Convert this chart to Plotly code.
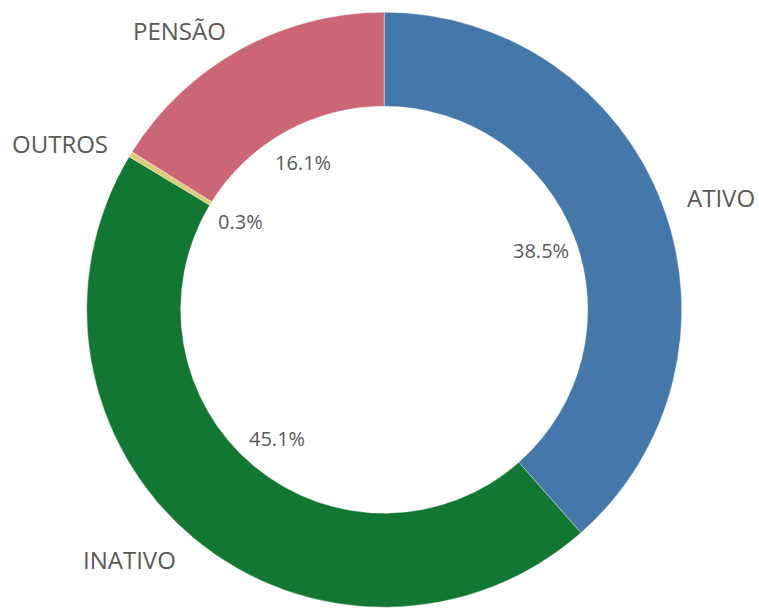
import numpy as np
import plotly.graph_objects as go

categories = ["ATIVO", "INATIVO", "OUTROS", "PENSÃO"]
values = [38.5, 45.1, 0.3, 16.1]
colors = ["#4477aa", "#117733", "#ddcc77", "#cc6677"]

W, H = 759, 608
CX, CY, R = 384.2, 309.7, 297.5
HOLE = 0.684

fig = go.Figure(go.Pie(
    labels=categories,
    values=values,
    sort=False,
    direction="clockwise",
    rotation=0,
    hole=HOLE,
    textinfo="none",
    hoverinfo="label+percent",
    marker=dict(colors=colors, line=dict(color="rgba(255,255,255,0.6)", width=0.6)),
    domain=dict(x=[(CX - R) / W, (CX + R) / W], y=[1 - (CY + R) / H, 1 - (CY - R) / H]),
    showlegend=False,
))

vals = np.array(values, dtype=float)
fracs = vals / vals.sum()
cum = np.cumsum(fracs) - fracs / 2
annotations = []
for cat, f, m in zip(categories, fracs, cum):
    ang = np.deg2rad(m * 360.0)
    s, c = np.sin(ang), np.cos(ang)
    # outside category label
    ro = 322
    px, py = CX + ro * s, CY - ro * c + 2
    annotations.append(dict(
        x=px / W, y=1 - py / H, xref="paper", yref="paper",
        text=cat, showarrow=False,
        xanchor="left" if s > 0 else "right", yanchor="middle",
        font=dict(family="Open Sans", size=24, color="#595959"),
    ))
    # inside percentage label
    ri = 168
    px, py = CX + ri * s, CY - ri * c
    annotations.append(dict(
        x=px / W, y=1 - py / H, xref="paper", yref="paper",
        text=f"{f * 100:.1f}%", showarrow=False,
        xanchor="center", yanchor="middle",
        font=dict(family="Open Sans", size=20, color="#595959"),
    ))

fig.update_layout(
    width=W, height=H,
    margin=dict(l=0, r=0, t=0, b=0),
    paper_bgcolor="white", plot_bgcolor="white",
    annotations=annotations,
)

fig.write_html(
    "out.html",
    config={"displayModeBar": False},
    post_script="document.body.style.margin='0';document.body.style.overflow='hidden';",
)
